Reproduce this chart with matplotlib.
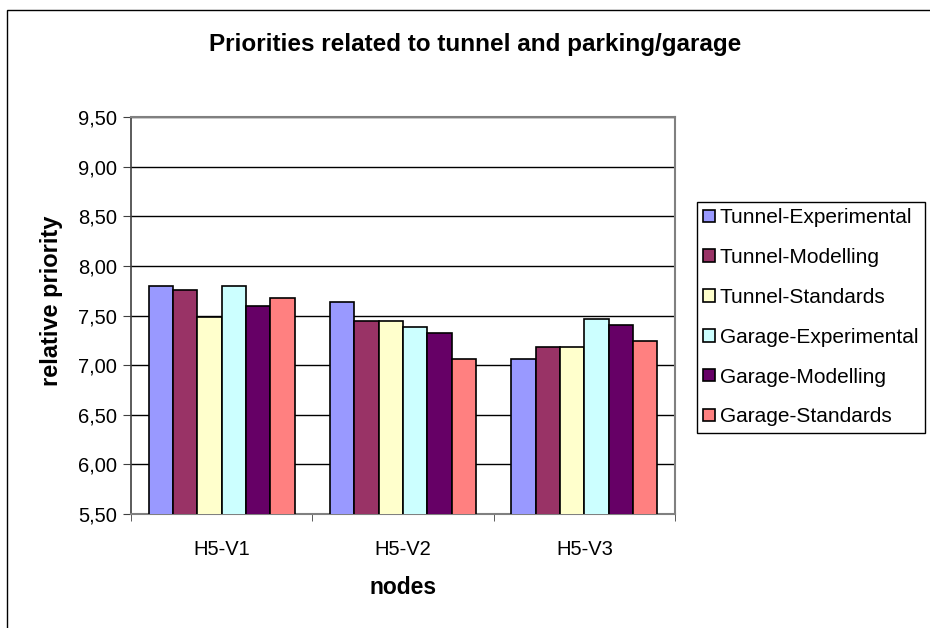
import numpy as np
import matplotlib.pyplot as plt
from matplotlib.patches import Rectangle

plt.rcParams['font.family'] = ['Liberation Sans', 'DejaVu Sans']

# Data
nodes = ["H5-V1", "H5-V2", "H5-V3"]
series_names = ["Tunnel-Experimental", "Tunnel-Modelling", "Tunnel-Standards",
                "Garage-Experimental", "Garage-Modelling", "Garage-Standards"]
tunnel_experimental = [7.80, 7.64, 7.06]
tunnel_modelling = [7.76, 7.44, 7.18]
tunnel_standards = [7.48, 7.44, 7.18]
garage_experimental = [7.80, 7.38, 7.46]
garage_modelling = [7.60, 7.32, 7.40]
garage_standards = [7.68, 7.06, 7.24]
y_ticks = [5.5, 6.0, 6.5, 7.0, 7.5, 8.0, 8.5, 9.0, 9.5]

series = [tunnel_experimental, tunnel_modelling, tunnel_standards,
          garage_experimental, garage_modelling, garage_standards]
colors = ["#9999FF", "#993366", "#FFFFCC", "#CCFFFF", "#660066", "#FF8080"]

W, H = 930, 628
fig = plt.figure(figsize=(W / 100, H / 100), dpi=100)

# outer chart frame
fig.patches.append(Rectangle((7 / W, -0.05), 1.2, 1 - 10 / H + 0.05,
                             transform=fig.transFigure, fill=False,
                             edgecolor="black", linewidth=1.0))

ax = fig.add_axes([131 / W, (H - 514) / H, 544 / W, 397 / H])

x = np.arange(len(nodes))
bw = 0.134
for i, (vals, name, c) in enumerate(zip(series, series_names, colors)):
    offs = (i - 2.5) * bw
    ax.bar(x + offs, vals, width=bw, color=c, edgecolor="black",
           linewidth=1.2, label=name, zorder=3)

ax.set_xlim(-0.5, 2.5)
ax.set_ylim(5.5, 9.5)
ax.set_yticks(y_ticks)
ax.set_yticklabels([f"{v:.2f}".replace(".", ",") for v in y_ticks], fontsize=14.5)
ax.yaxis.grid(True, color="black", linewidth=1.0, zorder=0)
ax.set_axisbelow(True)

ax.set_xticks(x)
ax.set_xticklabels(nodes, fontsize=14.5)
ax.tick_params(axis="x", length=0, pad=19)
ax.set_xticks([-0.5, 0.5, 1.5, 2.5], minor=True)
ax.tick_params(axis="x", which="minor", length=5, color="#404040")
ax.tick_params(axis="y", length=6, color="#404040", pad=4)

for s in ["top", "right"]:
    ax.spines[s].set_color("#808080")
    ax.spines[s].set_linewidth(1.5)
ax.spines["left"].set_color("#404040")
ax.spines["bottom"].set_color("#808080")
ax.spines["left"].set_linewidth(1.2)
ax.spines["bottom"].set_linewidth(1.5)

ax.set_ylabel("relative priority", fontsize=17, fontweight="bold")
ax.yaxis.set_label_coords(-68 / 544, (514 - 301) / 397)
ax.set_xlabel("nodes", fontsize=16.5, fontweight="bold", labelpad=12)

fig.text(475 / W, 1 - 44 / H, "Priorities related to tunnel and parking/garage",
         ha="center", va="center", fontsize=17.5, fontweight="bold")

leg = ax.legend(loc="upper left", bbox_to_anchor=(697 / W, 1 - 202 / H),
                bbox_transform=fig.transFigure, fontsize=15, frameon=True,
                fancybox=False, edgecolor="black", framealpha=1,
                handlelength=0.55, handleheight=0.55, handletextpad=0.25,
                labelspacing=1.0, borderpad=0.3, borderaxespad=0)
leg.get_frame().set_linewidth(1.0)

fig.savefig("out.png", dpi=100)
